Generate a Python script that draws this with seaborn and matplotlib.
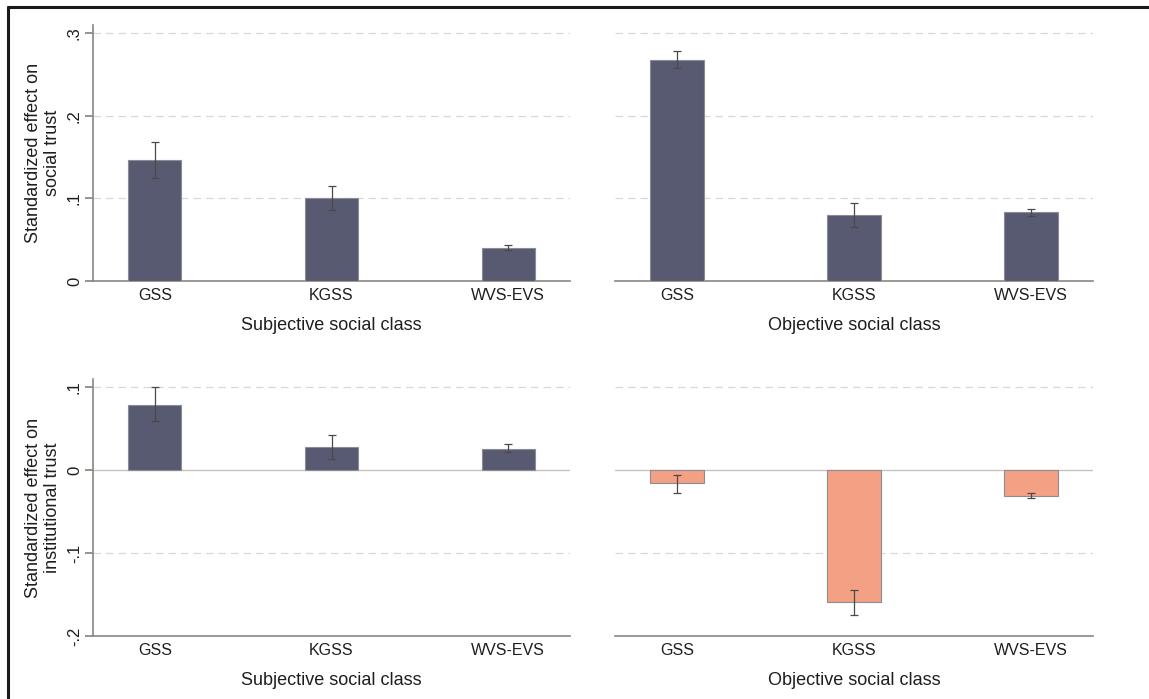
import numpy as np
import pandas as pd
import matplotlib
matplotlib.use("Agg")
import matplotlib.pyplot as plt
from matplotlib.lines import Line2D
import seaborn as sns

sns.set_theme(style="white")
plt.rcParams["font.family"] = ["Liberation Sans", "DejaVu Sans"]

surveys = ["GSS", "KGSS", "WVS-EVS"]

# social trust
soc_subj = [0.146, 0.101, 0.040]
soc_subj_lo = [0.125, 0.086, 0.037]
soc_subj_hi = [0.168, 0.115, 0.044]
soc_obj = [0.268, 0.080, 0.083]
soc_obj_lo = [0.258, 0.065, 0.079]
soc_obj_hi = [0.279, 0.095, 0.087]

# institutional trust
ins_subj = [0.079, 0.028, 0.026]
ins_subj_lo = [0.059, 0.014, 0.022]
ins_subj_hi = [0.100, 0.043, 0.031]
ins_obj = [-0.016, -0.159, -0.031]
ins_obj_lo = [-0.027, -0.175, -0.034]
ins_obj_hi = [-0.006, -0.145, -0.027]

DARK = "#585a72"
SALMON = "#f4a084"
GRID = "#d8d8d8"
SPINE = "#8a8580"
TXT = "#1e1e1e"

fig = plt.figure(figsize=(11.49, 6.99), dpi=100)
W, H = 1149, 699

def make_ax(l, r, t, b):
    return fig.add_axes([l / W, 1 - b / H, (r - l) / W, (b - t) / H])

panels = [
    (make_ax(93, 570, 25, 281), soc_subj, soc_subj_lo, soc_subj_hi, DARK,
     "Subjective social class", "Standardized effect on\nsocial trust", (0, 0.31), [0, .1, .2, .3], ["0", ".1", ".2", ".3"]),
    (make_ax(615, 1093, 25, 281), soc_obj, soc_obj_lo, soc_obj_hi, DARK,
     "Objective social class", None, (0, 0.31), [0, .1, .2, .3], None),
    (make_ax(93, 570, 379, 636), ins_subj, ins_subj_lo, ins_subj_hi, DARK,
     "Subjective social class", "Standardized effect on\ninstitutional trust", (-0.2, 0.11), [-.2, -.1, 0, .1], ["-.2", "-.1", "0", ".1"]),
    (make_ax(615, 1093, 379, 636), ins_obj, ins_obj_lo, ins_obj_hi, SALMON,
     "Objective social class", None, (-0.2, 0.11), [-.2, -.1, 0, .1], None),
]

for ax, vals, lo, hi, col, xlab, ylab, ylim, yt, ytl in panels:
    df = pd.DataFrame({"survey": surveys, "effect": vals})
    sns.barplot(data=df, x="survey", y="effect", color=col, width=0.3,
                edgecolor="#8c8c95", linewidth=0.8, saturation=1, ax=ax, zorder=3)
    pos = np.arange(len(surveys))
    v = np.array(vals)
    yerr = [v - np.array(lo), np.array(hi) - v]
    ax.errorbar(pos, v, yerr=yerr, fmt="none", ecolor="#4a4a4a", elinewidth=0.9,
                capsize=3, capthick=0.9, zorder=4)
    ax.set_xlim(-0.35, 2.35)
    ax.set_ylim(*ylim)
    for y in yt:
        if y == ylim[0]:
            continue
        if y == 0:
            ax.axhline(0, color="#c8c2bc", lw=1.0, zorder=1)
        else:
            ax.axhline(y, color=GRID, lw=0.9, ls=(0, (6, 4)), zorder=1)
    for s in ["top", "right"]:
        ax.spines[s].set_visible(False)
    ax.spines["bottom"].set_color(SPINE)
    ax.spines["bottom"].set_linewidth(1.2)
    ax.tick_params(axis="x", length=0, labelsize=11.5, pad=5, labelcolor=TXT)
    ax.set_xlabel(xlab, fontsize=13, labelpad=10, color=TXT)
    if ylab is None:
        ax.spines["left"].set_visible(False)
        ax.set_yticks([])
        ax.set_ylabel("")
    else:
        ax.spines["left"].set_color(SPINE)
        ax.spines["left"].set_linewidth(1.2)
        ax.set_yticks(yt)
        ax.set_yticklabels(ytl, rotation=90, va="center", fontsize=12, color=TXT)
        ax.tick_params(axis="y", length=6, color=SPINE, left=True, pad=2)
        ax.set_ylabel(ylab, fontsize=13, labelpad=4, linespacing=1.15, color=TXT)

# outer frame (top and left edges)
fig.add_artist(Line2D([8 / W, 1], [1 - 7 / H, 1 - 7 / H], color="#1a1a1a", lw=2.2))
fig.add_artist(Line2D([8 / W, 8 / W], [0, 1 - 7 / H], color="#1a1a1a", lw=2.2))

fig.savefig("out.png", dpi=100, facecolor="white")
